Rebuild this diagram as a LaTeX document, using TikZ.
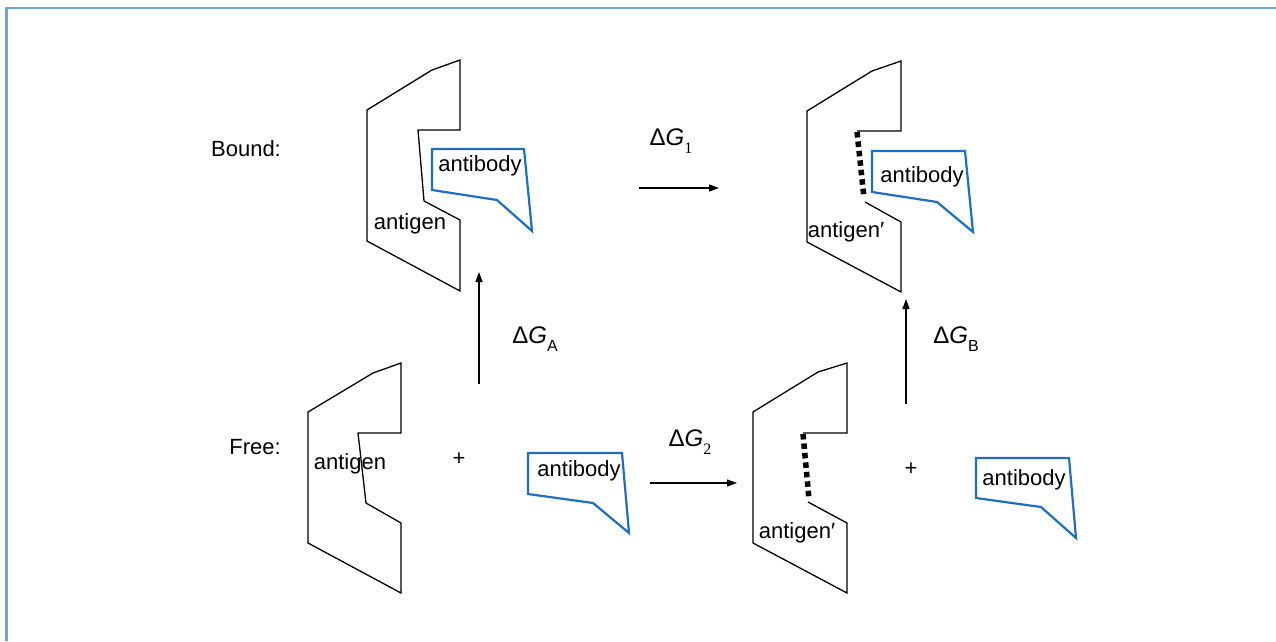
\documentclass[tikz,border=0pt]{standalone}
\usepackage{fontspec}
\setmainfont{Liberation Sans}
\newfontfamily\serifdig{Liberation Serif}
\usetikzlibrary{arrows.meta}
\definecolor{abblue}{HTML}{1F6FBF}
\definecolor{framblue}{HTML}{6FA3DA}
\tikzset{
  antigenline/.style={draw=black, line width=1.3pt, line join=miter},
  abline/.style={draw=abblue, line width=2.2pt, line join=miter},
  dotline/.style={draw=black, line width=5.5pt, dash pattern=on 5.5pt off 4pt},
  rxn/.style={draw=black, line width=1.3pt, -{Triangle[length=10pt,width=7pt]}},
  lbl/.style={inner sep=0pt, font=\fontsize{22}{25}\selectfont},
  dglbl/.style={inner sep=0pt, font=\fontsize{24}{27}\selectfont},
}
\newcommand{\dG}[1]{Δ\textit{G}\raisebox{-0.35em}{\fontsize{16}{17}\selectfont #1}}
\begin{document}
\begin{tikzpicture}[x=1pt,y=-1pt]
\useasboundingbox (0,0) rectangle (1276,641);
% frame
\draw[framblue, line width=2.4pt] (1276,8) -- (6.5,8) -- (6.5,641);

% ---- Bound: antigen + antibody
\draw[antigenline] (460,60) -- (432,70) -- (367,110) -- (367,241) -- (460,291) -- (460,220)
  -- (424,201) -- (418,130) -- (460,130) -- cycle;
\draw[abline] (432,149) -- (524,149) -- (532,231) -- (497,200) -- (432,190) -- cycle;
\node[lbl] (agA) at (410,224) {antigen};
\node[lbl] (abA) at (480,166) {antibody};

% ---- Bound: antigen' + antibody
\draw[antigenline] (857,131) -- (901,131) -- (901,61) -- (872,71) -- (807,111) -- (807,242)
  -- (901,292) -- (901,222) -- (865,202);
\draw[dotline] (857,132) -- (864,198);
\draw[abline] (872,151) -- (965,151) -- (973,232) -- (937,202) -- (872,192) -- cycle;
\node[lbl] (agB) at (846,232) {antigen′};
\node[lbl] (abB) at (922,177) {antibody};

% ---- Free: antigen, antibody
\draw[antigenline] (401,363) -- (373,373) -- (308,412) -- (308,543) -- (401,593) -- (401,523)
  -- (366,503) -- (358,433) -- (401,433) -- cycle;
\node[lbl] (agC) at (350,464) {antigen};
\node[lbl] (plusC) at (459,459) {+};
\draw[abline] (528,453) -- (622,453) -- (629,533) -- (593,503) -- (528,494) -- cycle;
\node[lbl] (abC) at (579,471) {antibody};

% ---- Free: antigen', antibody
\draw[antigenline] (803,433) -- (847,433) -- (847,363) -- (818,372) -- (753,412) -- (753,543)
  -- (847,593) -- (847,523) -- (808,502);
\draw[dotline] (803,434) -- (809,499);
\node[lbl] (agD) at (797,533) {antigen′};
\node[lbl] (plusD) at (911,469) {+};
\draw[abline] (976,458) -- (1069,458) -- (1076,538) -- (1041,507) -- (976,498) -- cycle;
\node[lbl] (abD) at (1024,480) {antibody};

% ---- row labels
\node[lbl] (bound) at (246,149) {Bound:};
\node[lbl] (free) at (255,447) {Free:};

% ---- reaction arrows
\coordinate (g1s) at (639,188);
\coordinate (g1e) at (719,188);
\draw[rxn] (g1s) -- (g1e);
\node[dglbl] (g1) at (671,141) {\dG{\serifdig 1}};

\coordinate (g2s) at (650,483);
\coordinate (g2e) at (737,483);
\draw[rxn] (g2s) -- (g2e);
\node[dglbl] (g2) at (690,442) {\dG{\serifdig 2}};

\coordinate (gAs) at (479,384);
\coordinate (gAe) at (479,272);
\draw[rxn] (gAs) -- (gAe);
\node[dglbl] (gA) at (535,339) {\dG{A}};

\coordinate (gBs) at (906,404);
\coordinate (gBe) at (906,299);
\draw[rxn] (gBs) -- (gBe);
\node[dglbl] (gB) at (956,339) {\dG{B}};
\end{tikzpicture}
\end{document}
